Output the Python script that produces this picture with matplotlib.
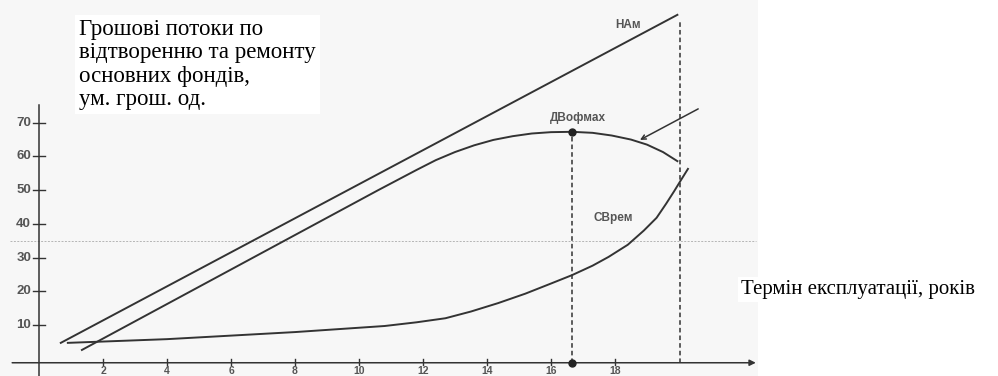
import matplotlib.pyplot as plt
from matplotlib.patches import Rectangle

# values (x: years, y: money units)
nam_x = [0.68, 19.95]
nam_y = [4.7, 102.0]

dv_x = [1.34, 10.6, 11.2, 11.8, 12.4, 13.0, 13.6, 14.2, 14.8, 15.4, 16.0, 16.66,
        17.3, 17.9, 18.5, 19.0, 19.5, 19.95]
dv_y = [2.6, 50.0, 53.0, 56.0, 58.9, 61.3, 63.3, 64.9, 66.0, 66.8, 67.2, 67.3,
        67.0, 66.2, 65.0, 63.5, 61.3, 58.6]

cb_x = [0.9, 4.0, 8.0, 10.8, 11.8, 12.7, 13.5, 14.35, 15.2, 16.0, 16.66, 17.3,
        17.8, 18.4, 18.9, 19.3, 19.6, 19.85, 20.05, 20.28]
cb_y = [4.7, 5.8, 7.9, 9.7, 10.8, 12.0, 14.0, 16.5, 19.3, 22.3, 24.8, 27.6,
        30.2, 33.8, 38.0, 41.8, 46.0, 49.7, 52.8, 56.3]

t_opt = 16.66      # year of max discounted value
t_end = 20.03      # end of service life
dv_max = 67.3

y_ticks = [10, 20, 30, 40, 50, 60, 70]
x_ticks = [2, 4, 6, 8, 10, 12, 14, 16, 18]

axis_y = -1.2
line_col = "#333333"
lab_col = "#555555"

fig = plt.figure(figsize=(9.98, 3.76), dpi=100)
ax = fig.add_axes([0, 0, 1, 1])
ax.set_xlim(-1.22, 29.97)
ax.set_ylim(-5.13, 106.4)
ax.axis("off")

# scanned page tint
ax.add_patch(Rectangle((-1.22, -5.13), 23.7, 112, color="#f7f7f7", lw=0, zorder=0))
ax.plot([-0.9, 22.4], [34.9, 34.9], color="#b5b5b5", lw=0.7, ls=(0, (2, 1.5)), zorder=1)

# axes
ax.plot([0, 0], [-5.2, 75.3], color=line_col, lw=1.1, zorder=2)
ax.annotate("", xy=(22.4, axis_y), xytext=(-0.84, axis_y),
            arrowprops=dict(arrowstyle="-|>", color=line_col, lw=1.1,
                            mutation_scale=9, shrinkA=0, shrinkB=0), zorder=2)
for v in y_ticks:
    ax.plot([-0.18, 0.18], [v, v], color=line_col, lw=1.0)
    ax.text(-0.25, v, str(v), ha="right", va="center", fontsize=9.5,
            fontweight="bold", color=lab_col, family="Liberation Sans")
for v in x_ticks:
    ax.plot([v, v], [axis_y + 1.1, axis_y - 0.6], color=line_col, lw=1.0)
    ax.text(v, -5.0, str(v), ha="center", va="bottom", fontsize=7.5,
            fontweight="bold", color=lab_col, family="Liberation Sans")

# curves
ax.plot(nam_x, nam_y, color=line_col, lw=1.4, zorder=3)
ax.plot(dv_x, dv_y, color=line_col, lw=1.4, zorder=3)
ax.plot(cb_x, cb_y, color=line_col, lw=1.4, zorder=3)

# guide lines and points
ax.plot([t_opt, t_opt], [axis_y, dv_max], color=line_col, lw=1.1, ls=(0, (3, 2)), zorder=2)
ax.plot([t_end, t_end], [axis_y, 100.5], color=line_col, lw=1.1, ls=(0, (3, 2)), zorder=2)
ax.plot([t_opt, t_opt], [dv_max, axis_y], "o", color="#222222", ms=5, zorder=4)

ax.annotate("", xy=(18.78, 64.9), xytext=(20.6, 74.1),
            arrowprops=dict(arrowstyle="->", color=line_col, lw=1.1,
                            mutation_scale=8, shrinkA=0, shrinkB=0))

ax.text(18.4, 99, "НАм", ha="center", va="center", fontsize=8.5,
        fontweight="bold", color=lab_col, family="Liberation Sans")
ax.text(16.85, 71.4, "ДВофмах", ha="center", va="center", fontsize=8.5,
        fontweight="bold", color=lab_col, family="Liberation Sans")
ax.text(17.94, 41.7, "СВрем", ha="center", va="center", fontsize=8.5,
        fontweight="bold", color=lab_col, family="Liberation Sans")

fig.text(0.079, 0.95, "Грошові потоки по\nвідтворенню та ремонту\nосновних фондів,\nум. грош. од.",
         ha="left", va="top", fontsize=16.5, linespacing=1.15, family="Liberation Serif",
         bbox=dict(fc="white", ec="none", pad=3))
fig.text(0.742, 0.23, "Термін експлуатації, років", ha="left", va="center",
         fontsize=15, family="Liberation Serif",
         bbox=dict(fc="white", ec="none", pad=2))

fig.savefig("out.png", dpi=100)
